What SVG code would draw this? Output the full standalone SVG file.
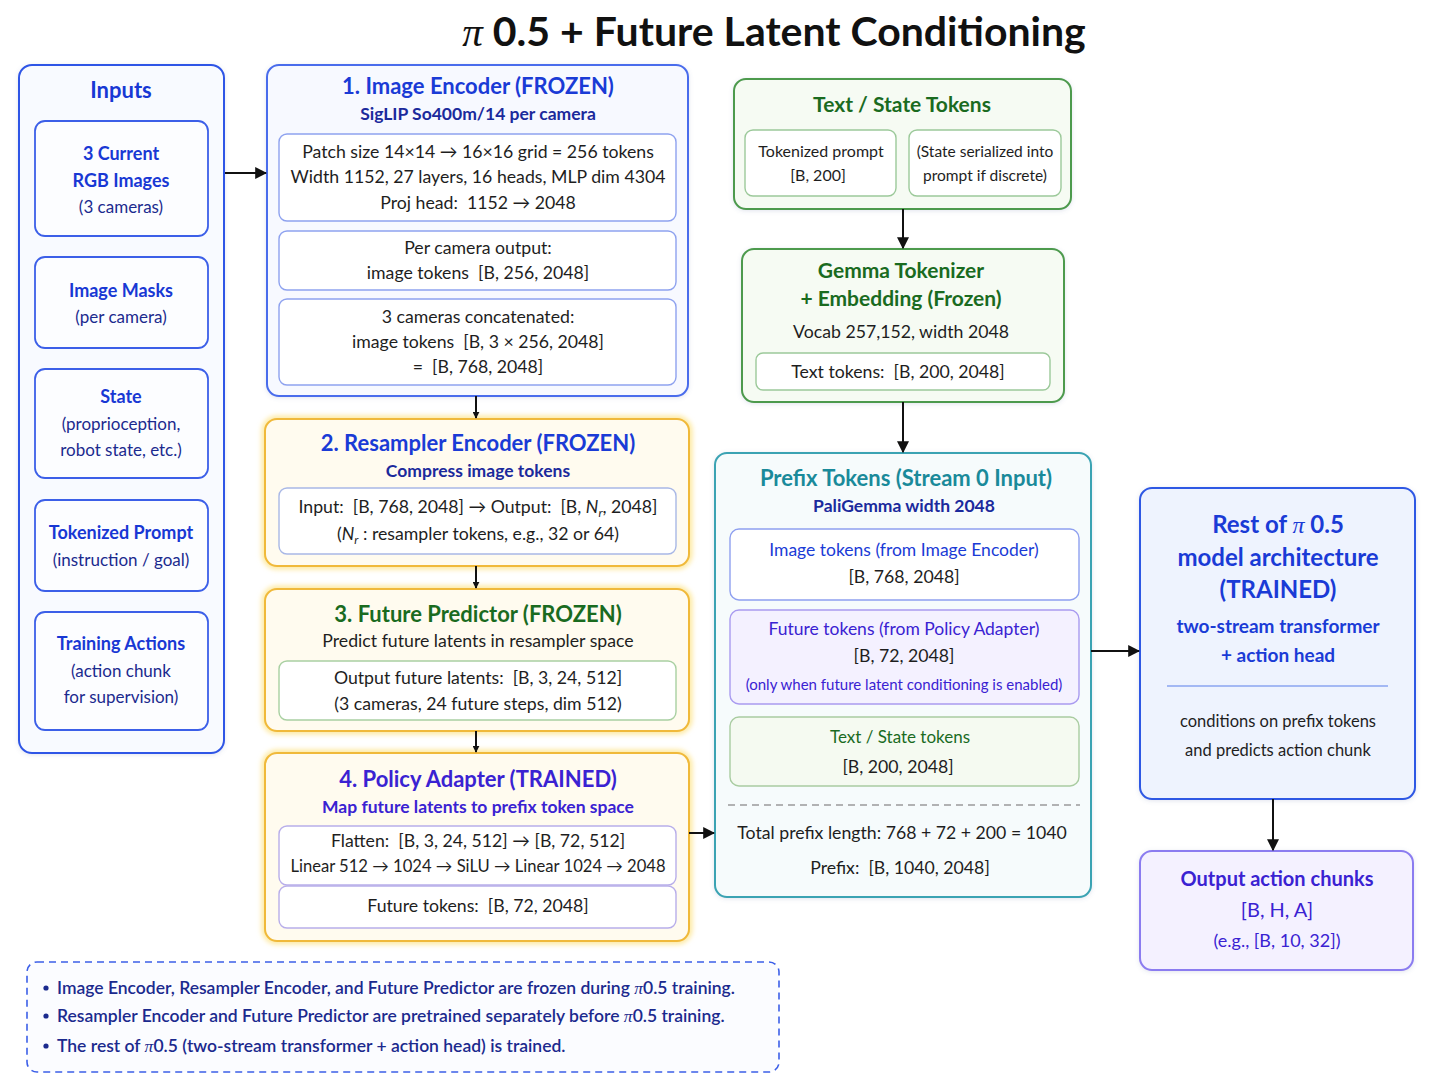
<svg xmlns="http://www.w3.org/2000/svg" width="1449" height="1085" viewBox="0 0 1449 1085">
<style>
text{font-family:Lato,"Liberation Sans",sans-serif;text-anchor:middle;white-space:pre}
.pi{font-family:"Liberation Serif",serif;font-style:italic}
.t{font-size:22px;font-weight:700}
.sub{font-size:17.5px;font-weight:700;fill:#1b2a9c}
.body{font-size:17.7px;fill:#1e1e1e}
.ib{font-size:18px;font-weight:700;fill:#1838d4}
.ir{font-size:17px;fill:#1b2a8e}
.blueT{fill:#1a3bd6}
.greenT{fill:#1a6b1f}
.purpT{fill:#3a22d2}
.tealT{fill:#1a8a9a}
.outer{fill:#f8faff;stroke:#2f55e6;stroke-width:2}
.inbox{fill:#fcfdff;stroke:#3c5fe8;stroke-width:1.8}
.encO{fill:#f7f9ff;stroke:#4a6cec;stroke-width:2}
.encI{fill:#ffffff;stroke:#8ea2ef;stroke-width:1.4}
.glow{fill:none;stroke:#fde9a0;stroke-width:7}
.orng{fill:#fffbef;stroke:#f0b93a;stroke-width:2}
.greenO{fill:#f6fbf3;stroke:#4d9a4d;stroke-width:2}
.greenI{fill:#ffffff;stroke:#9cc99a;stroke-width:1.4}
.conn line,.conn path{stroke:#111;stroke-width:2;fill:none}
</style>
<defs>
<marker id="ah" viewBox="0 0 10 10" refX="9" refY="5" markerWidth="7" markerHeight="7" orient="auto" markerUnits="userSpaceOnUse">
<path d="M0,0 L10,5 L0,10 z" fill="#111"/>
</marker>
<marker id="ah2" viewBox="0 0 10 10" refX="9" refY="5" markerWidth="12" markerHeight="12" orient="auto" markerUnits="userSpaceOnUse">
<path d="M0,0 L10,5 L0,10 z" fill="#111"/>
</marker>
<filter id="sh" x="-5%" y="-5%" width="110%" height="110%">
<feDropShadow dx="0" dy="1" stdDeviation="2" flood-color="#6070a0" flood-opacity="0.18"/>
</filter>
<filter id="gl" x="-5%" y="-10%" width="110%" height="120%">
<feGaussianBlur stdDeviation="2.5"/>
</filter>
</defs>
<rect width="1449" height="1085" fill="#ffffff"/>

<text x="774" y="46" style="font-size:41px;font-weight:700;fill:#111"><tspan class="pi" style="font-weight:400">π</tspan> 0.5 + Future Latent Conditioning</text>

<g id="inputs">
<rect class="outer" x="19" y="65" width="205" height="688" rx="13" filter="url(#sh)"/>
<text x="121" y="98" style="font-size:22px;font-weight:700;fill:#1838d4">Inputs</text>
<rect class="inbox" x="35" y="121" width="173" height="115" rx="10"/>
<text x="121" y="160" class="ib">3 Current</text>
<text x="121" y="187" class="ib">RGB Images</text>
<text x="121" y="213" class="ir">(3 cameras)</text>
<rect class="inbox" x="35" y="257" width="173" height="91" rx="10"/>
<text x="121" y="297" class="ib">Image Masks</text>
<text x="121" y="323" class="ir">(per camera)</text>
<rect class="inbox" x="35" y="369" width="173" height="109" rx="10"/>
<text x="121" y="403" class="ib">State</text>
<text x="121" y="430" class="ir">(proprioception,</text>
<text x="121" y="456" class="ir">robot state, etc.)</text>
<rect class="inbox" x="35" y="500" width="173" height="91" rx="10"/>
<text x="121" y="539" class="ib">Tokenized Prompt</text>
<text x="121" y="566" class="ir">(instruction / goal)</text>
<rect class="inbox" x="35" y="612" width="173" height="118" rx="10"/>
<text x="121" y="650" class="ib">Training Actions</text>
<text x="121" y="677" class="ir">(action chunk</text>
<text x="121" y="703" class="ir">for supervision)</text>
</g>

<g id="image-encoder">
<rect class="encO" x="267" y="65" width="421" height="331" rx="12" filter="url(#sh)"/>
<text x="478" y="94" class="t blueT">1. Image Encoder (FROZEN)</text>
<text x="478" y="120" class="sub">SigLIP So400m/14 per camera</text>
<rect class="encI" x="279" y="134" width="397" height="87" rx="8"/>
<text x="478" y="158" class="body">Patch size 14×14 → 16×16 grid = 256 tokens</text>
<text x="478" y="183" class="body">Width 1152, 27 layers, 16 heads, MLP dim 4304</text>
<text x="478" y="209" class="body">Proj head:  1152 → 2048</text>
<rect class="encI" x="279" y="231" width="397" height="59" rx="8"/>
<text x="478" y="254" class="body">Per camera output:</text>
<text x="478" y="279" class="body">image tokens  [B, 256, 2048]</text>
<rect class="encI" x="279" y="299" width="397" height="86" rx="8"/>
<text x="478" y="323" class="body">3 cameras concatenated:</text>
<text x="478" y="348" class="body">image tokens  [B, 3 × 256, 2048]</text>
<text x="478" y="373" class="body">=  [B, 768, 2048]</text>
</g>

<g id="resampler-encoder">
<rect class="glow" x="265" y="419" width="424" height="147" rx="12" filter="url(#gl)"/>
<rect class="orng" x="265" y="419" width="424" height="147" rx="12"/>
<text x="478" y="451" class="t blueT">2. Resampler Encoder (FROZEN)</text>
<text x="478" y="477" class="sub">Compress image tokens</text>
<rect x="279" y="488" width="397" height="66" rx="8" fill="#ffffff" stroke="#a9b8e6" stroke-width="1.4"/>
<text x="478" y="513" class="body">Input:  [B, 768, 2048] → Output:  [B, <tspan font-style="italic">N</tspan><tspan font-style="italic" font-size="12" dy="4">r</tspan><tspan dy="-4">, 2048]</tspan></text>
<text x="478" y="540" class="body">(<tspan font-style="italic">N</tspan><tspan font-style="italic" font-size="12" dy="4">r</tspan><tspan dy="-4"> : resampler tokens, e.g., 32 or 64)</tspan></text>
</g>

<g id="future-predictor">
<rect class="glow" x="265" y="589" width="424" height="142" rx="12" filter="url(#gl)"/>
<rect class="orng" x="265" y="589" width="424" height="142" rx="12"/>
<text x="478" y="622" class="t greenT">3. Future Predictor (FROZEN)</text>
<text x="478" y="647" class="body">Predict future latents in resampler space</text>
<rect x="279" y="661" width="397" height="59" rx="8" fill="#ffffff" stroke="#a9d0a2" stroke-width="1.4"/>
<text x="478" y="684" class="body">Output future latents:  [B, 3, 24, 512]</text>
<text x="478" y="710" class="body">(3 cameras, 24 future steps, dim 512)</text>
</g>

<g id="policy-adapter">
<rect class="glow" x="265" y="753" width="424" height="188" rx="12" filter="url(#gl)"/>
<rect class="orng" x="265" y="753" width="424" height="188" rx="12"/>
<text x="478" y="787" class="t purpT">4. Policy Adapter (TRAINED)</text>
<text x="478" y="813" class="sub" style="fill:#3a22d2">Map future latents to prefix token space</text>
<rect x="279" y="826" width="397" height="59" rx="8" fill="#ffffff" stroke="#b8aeea" stroke-width="1.4"/>
<text x="478" y="847" class="body">Flatten:  [B, 3, 24, 512] → [B, 72, 512]</text>
<text x="478" y="872" class="body" style="font-size:16.6px">Linear 512 → 1024 → SiLU → Linear 1024 → 2048</text>
<rect x="279" y="886" width="397" height="42" rx="8" fill="#ffffff" stroke="#b8aeea" stroke-width="1.4"/>
<text x="478" y="912" class="body">Future tokens:  [B, 72, 2048]</text>
</g>

<g id="text-state-tokens">
<rect class="greenO" x="734" y="79" width="337" height="130" rx="12" filter="url(#sh)"/>
<text x="902" y="112" style="font-size:21px;font-weight:700" class="greenT">Text / State Tokens</text>
<rect class="greenI" x="745" y="130" width="151" height="66" rx="8"/>
<text x="821" y="157" style="font-size:16px;fill:#1e1e1e">Tokenized prompt</text>
<text x="818" y="181" style="font-size:16px;fill:#1e1e1e">[B, 200]</text>
<rect class="greenI" x="909" y="130" width="152" height="66" rx="8"/>
<text x="985" y="157" style="font-size:15.5px;fill:#1e1e1e">(State serialized into</text>
<text x="985" y="181" style="font-size:15.5px;fill:#1e1e1e">prompt if discrete)</text>
</g>

<g id="gemma-tokenizer">
<rect class="greenO" x="742" y="249" width="322" height="153" rx="12" filter="url(#sh)"/>
<text x="901" y="278" style="font-size:21px;font-weight:700" class="greenT">Gemma Tokenizer</text>
<text x="901" y="306" style="font-size:21px;font-weight:700" class="greenT">+ Embedding (Frozen)</text>
<text x="901" y="338" class="body">Vocab 257,152, width 2048</text>
<rect class="greenI" x="756" y="353" width="294" height="37" rx="7"/>
<text x="898" y="378" class="body">Text tokens:  [B, 200, 2048]</text>
</g>

<g id="prefix-tokens">
<rect x="715" y="453" width="376" height="444" rx="12" fill="#f6fbfc" stroke="#3aa3b3" stroke-width="2" filter="url(#sh)"/>
<text x="906" y="486" class="t tealT">Prefix Tokens (Stream 0 Input)</text>
<text x="904" y="512" class="sub">PaliGemma width 2048</text>
<rect x="730" y="529" width="349" height="71" rx="9" fill="#ffffff" stroke="#8fa0f0" stroke-width="1.4"/>
<text x="904" y="556" style="font-size:17.5px" class="blueT">Image tokens (from Image Encoder)</text>
<text x="904" y="583" class="body">[B, 768, 2048]</text>
<rect x="730" y="610" width="349" height="94" rx="9" fill="#f4f1ff" stroke="#a99bf0" stroke-width="1.4"/>
<text x="904" y="635" style="font-size:17.5px" class="purpT">Future tokens (from Policy Adapter)</text>
<text x="904" y="662" class="body">[B, 72, 2048]</text>
<text x="904" y="690" style="font-size:15px" class="purpT">(only when future latent conditioning is enabled)</text>
<rect x="730" y="717" width="349" height="69" rx="9" fill="#f5faf1" stroke="#a9cca1" stroke-width="1.4"/>
<text x="900" y="743" style="font-size:17px" class="greenT">Text / State tokens</text>
<text x="898" y="773" class="body">[B, 200, 2048]</text>
<line x1="728" y1="805" x2="1080" y2="805" stroke="#9a9a9a" stroke-width="1.4" stroke-dasharray="7 5"/>
<text x="902" y="839" class="body">Total prefix length: 768 + 72 + 200 = 1040</text>
<text x="900" y="874" class="body">Prefix:  [B, 1040, 2048]</text>
</g>

<g id="rest-of-model">
<rect x="1140" y="488" width="275" height="311" rx="12" fill="#eef3fe" stroke="#2f58e4" stroke-width="2" filter="url(#sh)"/>
<text x="1278" y="533" style="font-size:24px;font-weight:700" class="blueT">Rest of <tspan class="pi" style="font-weight:400">π</tspan> 0.5</text>
<text x="1278" y="566" style="font-size:24px;font-weight:700" class="blueT">model architecture</text>
<text x="1278" y="598" style="font-size:24px;font-weight:700" class="blueT">(TRAINED)</text>
<text x="1278" y="633" style="font-size:19px;font-weight:700" class="blueT">two-stream transformer</text>
<text x="1278" y="662" style="font-size:19px;font-weight:700" class="blueT">+ action head</text>
<line x1="1167" y1="686" x2="1388" y2="686" stroke="#8aa4f0" stroke-width="1.4"/>
<text x="1278" y="727" style="font-size:16.5px;fill:#1e1e1e">conditions on prefix tokens</text>
<text x="1278" y="756" style="font-size:16.5px;fill:#1e1e1e">and predicts action chunk</text>
</g>

<g id="output-actions">
<rect x="1140" y="851" width="273" height="119" rx="12" fill="#f4f1ff" stroke="#8b7cf0" stroke-width="2" filter="url(#sh)"/>
<text x="1277" y="886" style="font-size:20px;font-weight:700" class="purpT">Output action chunks</text>
<text x="1277" y="917" style="font-size:20px" class="purpT">[B, H, A]</text>
<text x="1277" y="947" style="font-size:18px" class="purpT">(e.g., [B, 10, 32])</text>
</g>

<g id="notes">
<rect x="27" y="962" width="752" height="110" rx="10" fill="#fbfcff" stroke="#3c5fe8" stroke-width="1.6" stroke-dasharray="7 5"/>
<g style="font-size:17.5px;font-weight:600;fill:#1b2a8e">
<circle cx="46" cy="988" r="2.6" fill="#1b2a8e"/>
<text x="57" y="994" style="text-anchor:start">Image Encoder, Resampler Encoder, and Future Predictor are frozen during <tspan class="pi" style="font-weight:400">π</tspan>0.5 training.</text>
<circle cx="46" cy="1016" r="2.6" fill="#1b2a8e"/>
<text x="57" y="1022" style="text-anchor:start">Resampler Encoder and Future Predictor are pretrained separately before <tspan class="pi" style="font-weight:400">π</tspan>0.5 training.</text>
<circle cx="46" cy="1046" r="2.6" fill="#1b2a8e"/>
<text x="57" y="1052" style="text-anchor:start">The rest of <tspan class="pi" style="font-weight:400">π</tspan>0.5 (two-stream transformer + action head) is trained.</text>
</g>
</g>

<g id="connectors" class="conn">
<line x1="225" y1="173" x2="266" y2="173" marker-end="url(#ah2)"/>
<line x1="476" y1="396" x2="476" y2="418" marker-end="url(#ah)"/>
<line x1="476" y1="566" x2="476" y2="588" marker-end="url(#ah)"/>
<line x1="476" y1="731" x2="476" y2="752" marker-end="url(#ah)"/>
<line x1="689" y1="833" x2="714" y2="833" marker-end="url(#ah2)"/>
<line x1="903" y1="209" x2="903" y2="248" marker-end="url(#ah2)"/>
<line x1="903" y1="402" x2="903" y2="452" marker-end="url(#ah2)"/>
<line x1="1091" y1="651" x2="1139" y2="651" marker-end="url(#ah2)"/>
<line x1="1273" y1="799" x2="1273" y2="850" marker-end="url(#ah2)"/>
</g>
</svg>
